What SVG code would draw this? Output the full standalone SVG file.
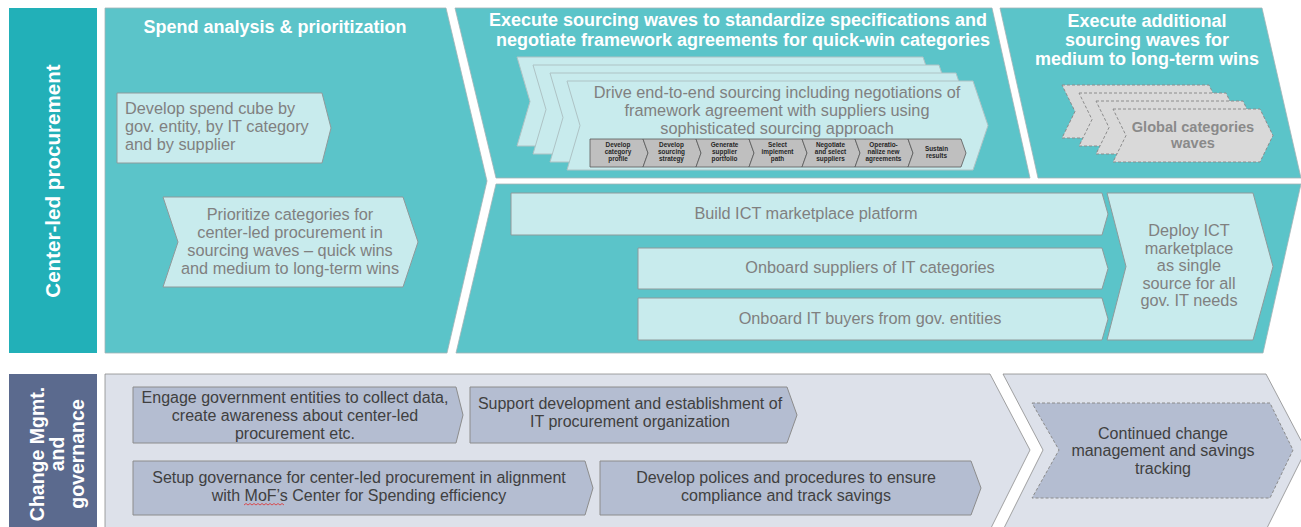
<svg xmlns="http://www.w3.org/2000/svg" width="1301" height="527" viewBox="0 0 1301 527">
<style>
.teal{fill:#5bc4c9;stroke:#a3b4b6;stroke-width:0.8}
.lab1{fill:#22b0b8}
.lab2{fill:#5b6a8e}
.lt{fill:#c8ebed;stroke:#8f9a9b;stroke-width:1}
.sheet{fill:#c8ebed;stroke:#aec3c5;stroke-width:1}
.lav{fill:#dde1ea;stroke:#8c8c8c;stroke-width:0.8}
.bx{fill:#b4bdd1;stroke:#8c8c8c;stroke-width:1}
.dsh{stroke-dasharray:3 2}
.gsh{fill:#d9d9d9;stroke:#8c8c8c;stroke-width:1;stroke-dasharray:3 2}
.st{fill:#bfbfbf;stroke:#595959;stroke-width:0.8}
text{font-family:"Liberation Sans",Arial,sans-serif}
.h{fill:#fff;font-weight:bold;font-size:18px;text-anchor:middle}
.t{fill:#808080;font-size:16.3px}
.c{text-anchor:middle}
.d{fill:#404040;font-size:16px;text-anchor:middle}
.s{fill:#262626;font-size:6.4px;font-weight:bold;text-anchor:middle}
.g{fill:#8a8a8a;font-size:14.6px;font-weight:bold;text-anchor:middle}
.v{fill:#fff;font-weight:bold;text-anchor:middle}
</style>
<defs>
<path id="sheet" d="M0,0 H406 L421,44.5 L406,89 H0 L13,44.5 Z"/>
<path id="gsheet" d="M0,0 H147 L160,26.5 L147,53 H0 L13,26.5 Z"/>
<path id="chev" d="M0,0 H53 L58,14 L53,28 H0 L5,14 Z"/>
</defs>

<g id="label-center-led">
<rect class="lab1" x="9" y="8" width="88" height="345"/>
<text class="v" font-size="20.6" transform="translate(60,181) rotate(-90)">Center-led procurement</text>
</g>

<g id="label-change-mgmt">
<rect class="lab2" x="9" y="374" width="88" height="160"/>
<g class="v" font-size="19.5">
<text transform="translate(44,454) rotate(-90)">Change Mgmt.</text>
<text transform="translate(64,454) rotate(-90)">and</text>
<text transform="translate(84,454) rotate(-90)">governance</text>
</g>
</g>

<g id="phase-spend-analysis">
<polygon class="teal" points="105,8 446,8 487,181 447,353 105,353"/>
<text class="h" x="275" y="33">Spend analysis &amp; prioritization</text>
</g>

<g id="phase-quick-win">
<polygon class="teal" points="455,8 992,8 1030,178 496,178"/>
<text class="h" x="738" y="26">Execute sourcing waves to standardize specifications and</text>
<text class="h" x="743" y="46">negotiate framework agreements for quick-win categories</text>
</g>

<g id="phase-additional">
<polygon class="teal" points="1000,8 1262,8 1301,178 1038,178"/>
<text class="h" x="1147" y="27">Execute additional</text>
<text class="h" x="1147" y="46">sourcing waves for</text>
<text class="h" x="1147" y="65">medium to long-term wins</text>
</g>

<g id="phase-marketplace">
<polygon class="teal" points="496,184 1301,184 1263,353 456,353"/>
</g>

<g id="phase-change-1">
<polygon class="lav" points="105,374 990,374 1030,450 990,530 105,530"/>
</g>

<g id="phase-change-2">
<polygon class="lav" points="1003,374 1266,374 1306,450 1266,530 1003,530 1043,450"/>
</g>

<g id="node-spend-cube">
<polygon class="lt" points="117,93 322,93 331,128 322,163 117,163"/>
<text class="t" x="125" y="114">Develop spend cube by</text>
<text class="t" x="125" y="132">gov. entity, by IT category</text>
<text class="t" x="125" y="150">and by supplier</text>
</g>

<g id="node-prioritize">
<polygon class="lt" points="163,197 403,197 418,242 403,287 163,287 178,242"/>
<g class="t c">
<text x="290" y="220">Prioritize categories for</text>
<text x="290" y="238">center-led procurement in</text>
<text x="290" y="256">sourcing waves – quick wins</text>
<text x="290" y="274">and medium to long-term wins</text>
</g>
</g>

<g id="node-sourcing-waves">
<use href="#sheet" class="sheet" x="517" y="57"/>
<use href="#sheet" class="sheet" x="533" y="65"/>
<use href="#sheet" class="sheet" x="550" y="73"/>
<use href="#sheet" class="sheet" x="567" y="81"/>
<g class="t c">
<text x="777" y="98">Drive end-to-end sourcing including negotiations of</text>
<text x="777" y="116">framework agreement with suppliers using</text>
<text x="777" y="134">sophisticated sourcing approach</text>
</g>
</g>

<g id="node-process-steps">
<polygon class="st" points="590,139 643,139 648,153 643,167 590,167"/>
<use href="#chev" class="st" x="643" y="139"/>
<use href="#chev" class="st" x="696" y="139"/>
<use href="#chev" class="st" x="749" y="139"/>
<use href="#chev" class="st" x="802" y="139"/>
<use href="#chev" class="st" x="855" y="139"/>
<use href="#chev" class="st" x="908" y="139"/>
<g class="s">
<text x="618" y="147">Develop</text><text x="618" y="154">category</text><text x="618" y="161">profile</text>
<text x="671.5" y="147">Develop</text><text x="671.5" y="154">sourcing</text><text x="671.5" y="161">strategy</text>
<text x="724.5" y="147">Generate</text><text x="724.5" y="154">supplier</text><text x="724.5" y="161">portfolio</text>
<text x="777.5" y="147">Select</text><text x="777.5" y="154">implement</text><text x="777.5" y="161">path</text>
<text x="830.5" y="147">Negotiate</text><text x="830.5" y="154">and select</text><text x="830.5" y="161">suppliers</text>
<text x="883.5" y="147">Operatio-</text><text x="883.5" y="154">nalize new</text><text x="883.5" y="161">agreements</text>
<text x="936.5" y="151">Sustain</text><text x="936.5" y="158">results</text>
</g>
</g>

<g id="node-global-waves">
<use href="#gsheet" class="gsh" x="1062" y="85"/>
<use href="#gsheet" class="gsh" x="1079" y="93"/>
<use href="#gsheet" class="gsh" x="1096" y="101"/>
<use href="#gsheet" class="gsh" x="1113" y="109"/>
<text class="g" x="1193" y="132">Global categories</text>
<text class="g" x="1193" y="148">waves</text>
</g>

<g id="node-build-ict">
<polygon class="lt" points="511,193 1102,193 1108,214 1102,235 511,235"/>
<text class="t c" x="806" y="219">Build ICT marketplace platform</text>
</g>

<g id="node-onboard-suppliers">
<polygon class="lt" points="638,248 1102,248 1108,268.5 1102,289 638,289"/>
<text class="t c" x="870" y="273">Onboard suppliers of IT categories</text>
</g>

<g id="node-onboard-buyers">
<polygon class="lt" points="638,298 1102,298 1108,319 1102,340 638,340"/>
<text class="t c" x="870" y="324">Onboard IT buyers from gov. entities</text>
</g>

<g id="node-deploy-ict">
<polygon class="lt" points="1107,193 1253,193 1273,266.5 1253,340 1107,340 1126,266.5"/>
<g class="t c">
<text x="1189" y="236">Deploy ICT</text>
<text x="1189" y="253.5">marketplace</text>
<text x="1189" y="271">as single</text>
<text x="1189" y="288.5">source for all</text>
<text x="1189" y="306">gov. IT needs</text>
</g>
</g>

<g id="node-engage">
<polygon class="bx" points="133,387 456,387 463,415 456,443 133,443"/>
<text class="d" x="295" y="403">Engage government entities to collect data,</text>
<text class="d" x="295" y="421">create awareness about center-led</text>
<text class="d" x="295" y="439">procurement etc.</text>
</g>

<g id="node-support">
<polygon class="bx" points="470,387 787,387 797,415 787,443 470,443"/>
<text class="d" x="630" y="409">Support development and establishment of</text>
<text class="d" x="630" y="427">IT procurement organization</text>
</g>

<g id="node-setup-governance">
<polygon class="bx" points="133,461 585,461 593,488 585,515 133,515"/>
<text class="d" x="359" y="483">Setup governance for center-led procurement in alignment</text>
<text class="d" x="359" y="501">with MoF’s Center for Spending efficiency</text>
<path d="M244,505 l2,-1.5 l2,1.5 l2,-1.5 l2,1.5 l2,-1.5 l2,1.5 l2,-1.5 l2,1.5 l2,-1.5 l2,1.5 l2,-1.5 l2,1.5 l2,-1.5 l2,1.5 l2,-1.5 l2,1.5 l2,-1.5 l2,1.5 l2,-1.5 l2,1.5" fill="none" stroke="#e03030" stroke-width="0.8"/>
</g>

<g id="node-policies">
<polygon class="bx" points="600,461 971,461 981,488 971,515 600,515"/>
<text class="d" x="786" y="483">Develop polices and procedures to ensure</text>
<text class="d" x="786" y="501">compliance and track savings</text>
</g>

<g id="node-continued-change">
<polygon class="bx dsh" points="1032,403 1270,403 1293,450 1270,498 1032,498 1059,450"/>
<text class="d" x="1163" y="439">Continued change</text>
<text class="d" x="1163" y="456">management and savings</text>
<text class="d" x="1163" y="474">tracking</text>
</g>

<g id="connectors"></g>
</svg>
